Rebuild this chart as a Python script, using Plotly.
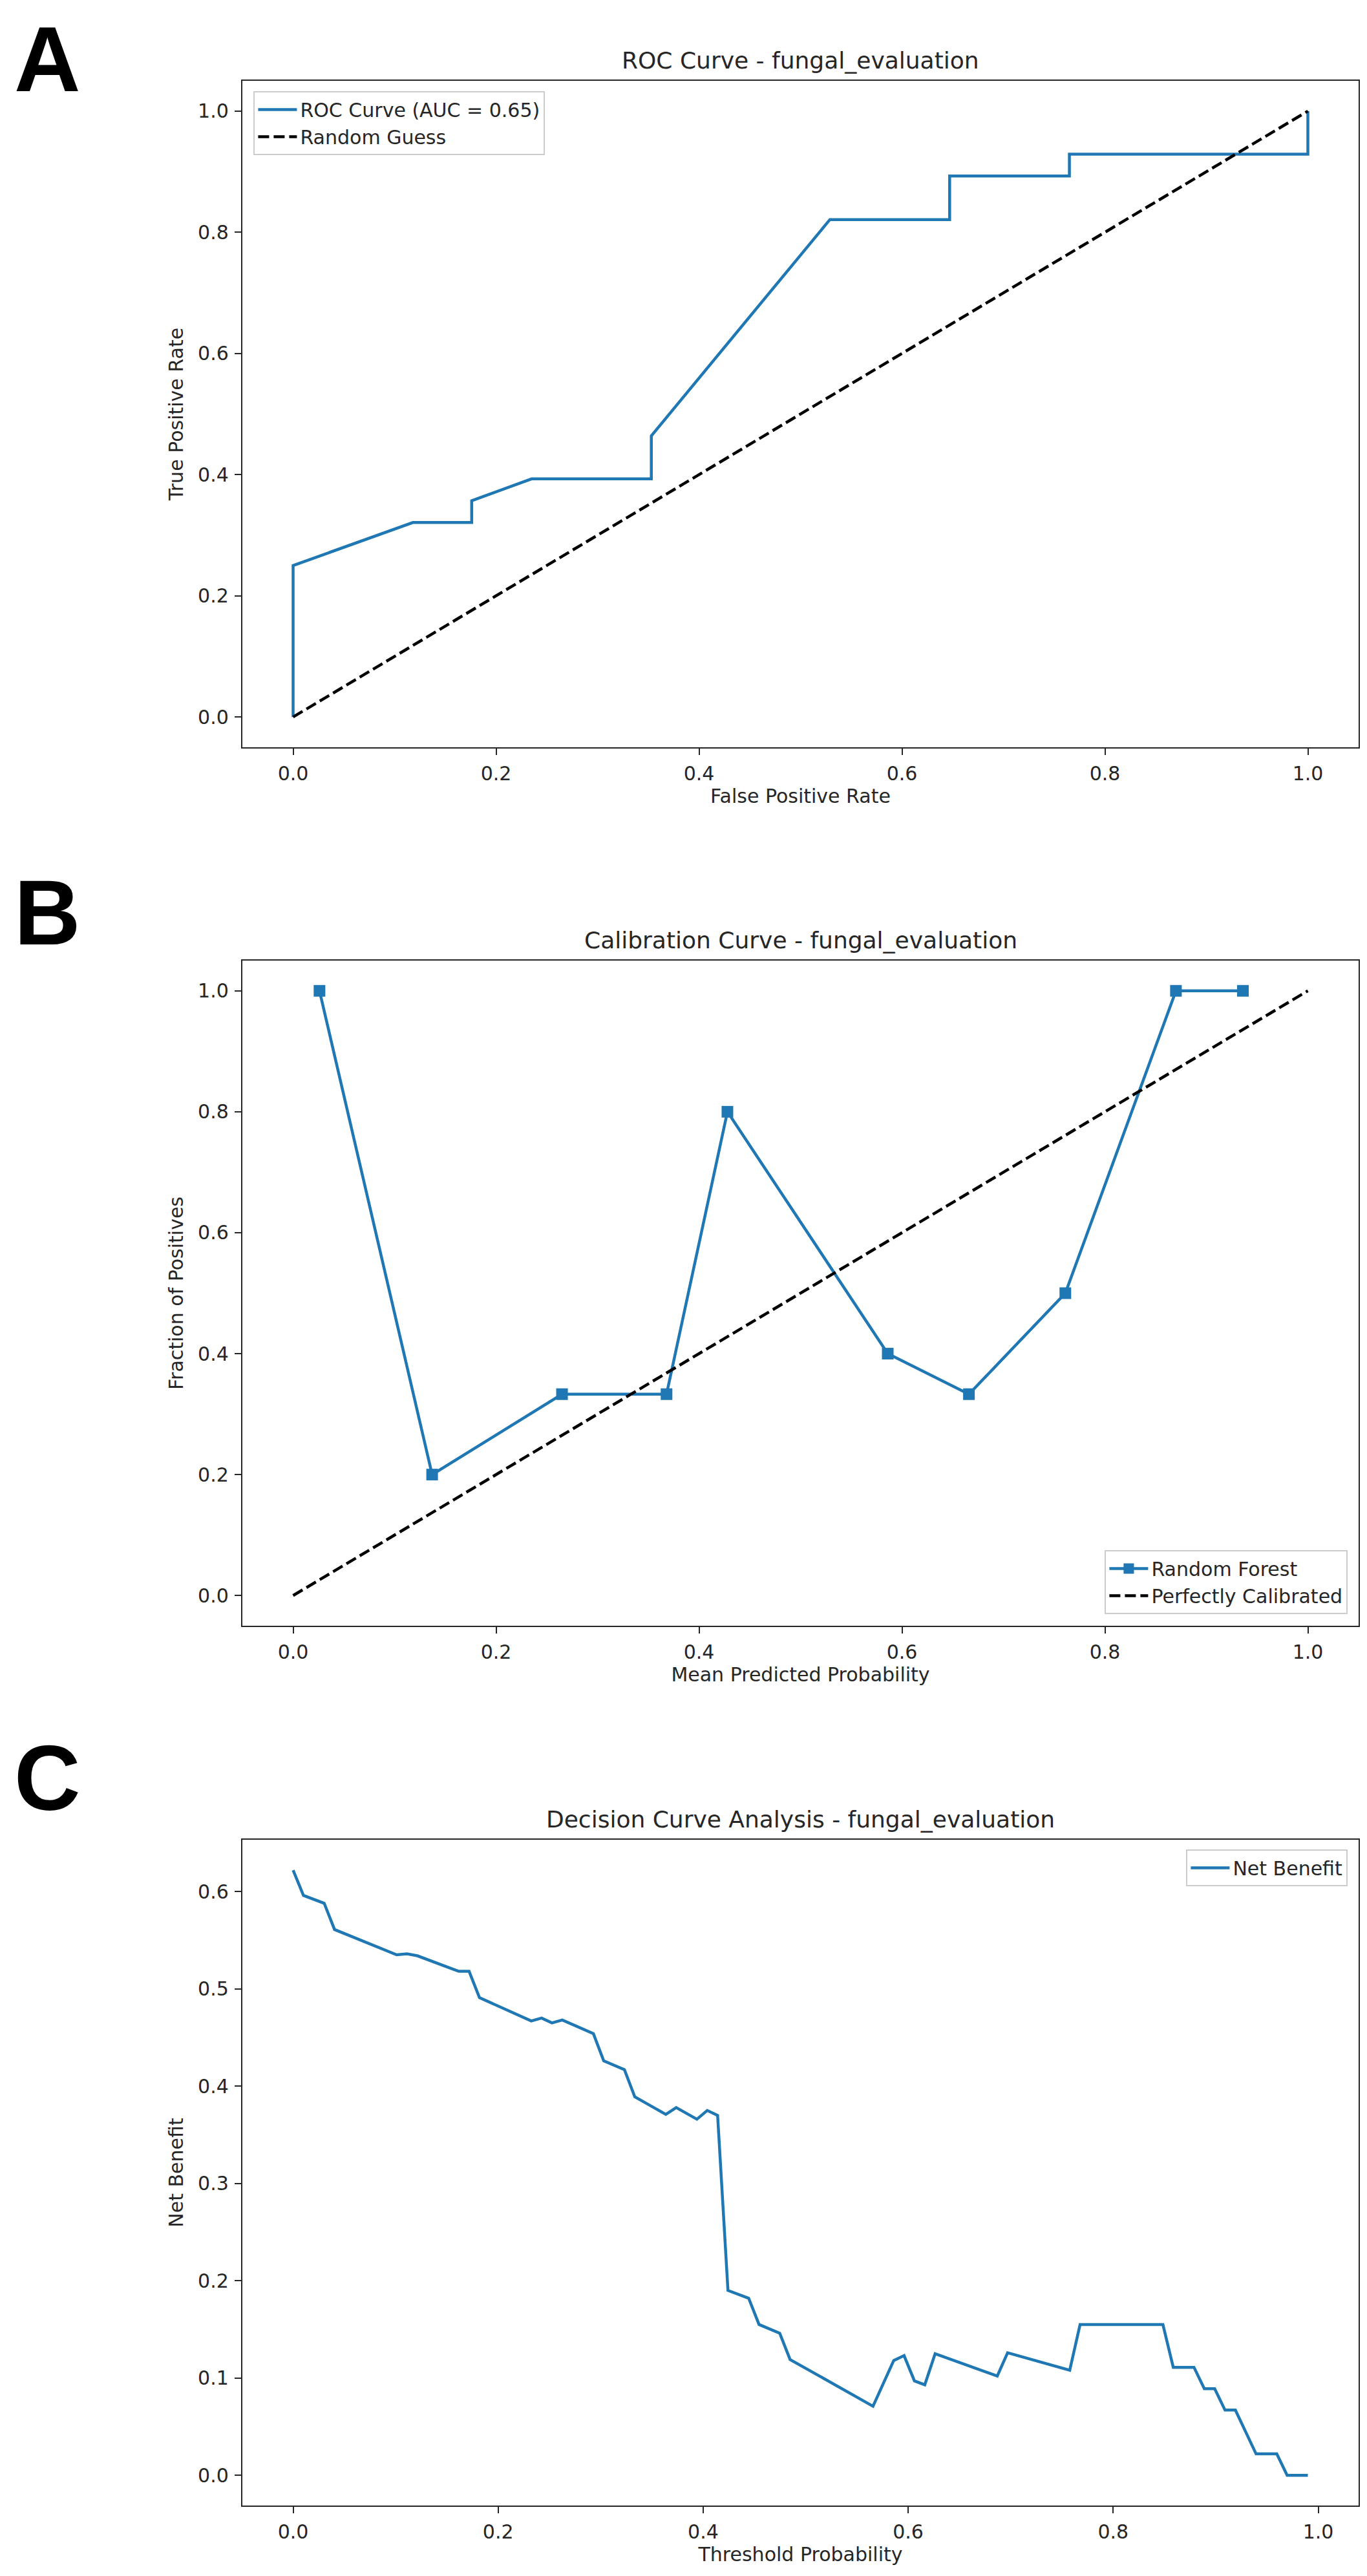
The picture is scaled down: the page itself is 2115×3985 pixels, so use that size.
import plotly.graph_objects as go

# Panel A - ROC curve
roc_fpr = [0.0, 0.0, 0.118, 0.176, 0.176, 0.235, 0.353, 0.353, 0.529, 0.647, 0.647, 0.765, 0.765, 1.0, 1.0]
roc_tpr = [0.0, 0.25, 0.321, 0.321, 0.357, 0.393, 0.393, 0.464, 0.821, 0.821, 0.893, 0.893, 0.929, 0.929, 1.0]
roc_auc = 0.65

# Panel B - calibration bins
cal_pred = [0.026, 0.137, 0.265, 0.368, 0.428, 0.586, 0.666, 0.761, 0.870, 0.936]
cal_frac = [1.0, 0.2, 0.333, 0.333, 0.8, 0.4, 0.333, 0.5, 1.0, 1.0]

# reference diagonal
diag = [0.0, 1.0]

# Panel C - decision curve, thresholds where the curve changes direction
dca_thr = [0.0, 0.0101, 0.0303, 0.0404, 0.1010, 0.1111, 0.1212, 0.1616, 0.1717, 0.1818,
           0.2323, 0.2424, 0.2525, 0.2626, 0.2929, 0.3030, 0.3232, 0.3333, 0.3636, 0.3737,
           0.3939, 0.4040, 0.4141, 0.4242, 0.4444, 0.4545, 0.4747, 0.4848, 0.5657, 0.5859,
           0.5960, 0.6061, 0.6162, 0.6263, 0.6869, 0.6970, 0.7576, 0.7677, 0.8485, 0.8586,
           0.8788, 0.8889, 0.8990, 0.9091, 0.9192, 0.9394, 0.9596, 0.9697, 0.9899]
dca_nb = [0.622, 0.596, 0.588, 0.561, 0.535, 0.536, 0.534, 0.518, 0.518, 0.491,
          0.467, 0.470, 0.465, 0.468, 0.454, 0.426, 0.417, 0.389, 0.371, 0.378,
          0.366, 0.375, 0.370, 0.190, 0.182, 0.155, 0.146, 0.119, 0.071, 0.118,
          0.123, 0.097, 0.093, 0.125, 0.102, 0.126, 0.108, 0.155, 0.155, 0.111,
          0.111, 0.089, 0.089, 0.067, 0.067, 0.022, 0.022, 0.0, 0.0]

W, H = 2115, 3985
BLUE = '#1f77b4'
INK = '#262626'
FONT = 'DejaVu Sans'
DASH = '17px,7px'


def py(px):
    # pixel row -> paper coordinate
    return 1 - px / H


def px_x(px):
    return px / W


x_dom = [px_x(367), px_x(2094)]
boxes = [(117, 1148), (1478, 2507), (2838, 3868)]

fig = go.Figure()

# A
fig.add_trace(go.Scatter(x=roc_fpr, y=roc_tpr, mode='lines', name=f'ROC Curve (AUC = {roc_auc:.2f})',
                         line=dict(color=BLUE, width=4.5), xaxis='x', yaxis='y', legend='legend'))
fig.add_trace(go.Scatter(x=diag, y=diag, mode='lines', name='Random Guess',
                         line=dict(color='black', width=4.5, dash=DASH), xaxis='x', yaxis='y', legend='legend'))
# B
fig.add_trace(go.Scatter(x=cal_pred, y=cal_frac, mode='lines+markers', name='Random Forest',
                         line=dict(color=BLUE, width=4.5), marker=dict(symbol='square', size=18, color=BLUE),
                         xaxis='x2', yaxis='y2', legend='legend2'))
fig.add_trace(go.Scatter(x=diag, y=diag, mode='lines', name='Perfectly Calibrated',
                         line=dict(color='black', width=4.5, dash=DASH), xaxis='x2', yaxis='y2', legend='legend2'))
# C
fig.add_trace(go.Scatter(x=dca_thr, y=dca_nb, mode='lines', name='Net Benefit',
                         line=dict(color=BLUE, width=4.5), xaxis='x3', yaxis='y3', legend='legend3'))

axis_common = dict(showline=True, mirror=True, linecolor=INK, linewidth=2.4,
                   ticks='outside', ticklen=10, tickwidth=2.4, tickcolor=INK,
                   showgrid=False, zeroline=False, tickformat='.1f',
                   tickfont=dict(family=FONT, size=30, color=INK), ticklabelstandoff=3)

specs = [
    ('False Positive Rate', 'True Positive Rate', [-0.05, 1.05], [-0.05, 1.05], 0.2),
    ('Mean Predicted Probability', 'Fraction of Positives', [-0.05, 1.05], [-0.05, 1.05], 0.2),
    ('Threshold Probability', 'Net Benefit', [-0.0495, 1.0394], [-0.0311, 0.6533], 0.1),
]

layout = dict(width=W, height=H, autosize=False, margin=dict(l=0, r=0, t=0, b=0),
              paper_bgcolor='white', plot_bgcolor='white', showlegend=True)

for i, (xt, yt, xr, yr, ystep) in enumerate(specs):
    top, bot = boxes[i]
    sfx = '' if i == 0 else str(i + 1)
    layout['xaxis' + sfx] = dict(axis_common, domain=x_dom, range=xr, dtick=0.2, tick0=0,
                                 anchor='y' + sfx,
                                 title=dict(text=xt, standoff=7, font=dict(family=FONT, size=30, color=INK)))
    layout['yaxis' + sfx] = dict(axis_common, domain=[py(bot), py(top)], range=yr, dtick=ystep, tick0=0,
                                 anchor='x' + sfx,
                                 title=dict(text=yt, standoff=14, font=dict(family=FONT, size=30, color=INK)))

leg_common = dict(bgcolor='rgba(255,255,255,0.8)', bordercolor='#cccccc', borderwidth=2.4,
                  font=dict(family=FONT, size=30, color=INK), xref='paper', yref='paper', itemwidth=60)
layout['legend'] = dict(leg_common, x=px_x(384), y=py(133), xanchor='left', yanchor='top')
layout['legend2'] = dict(leg_common, x=px_x(2077), y=py(2489), xanchor='right', yanchor='bottom')
layout['legend3'] = dict(leg_common, x=px_x(2077), y=py(2853), xanchor='right', yanchor='top')

fig.update_layout(**layout)

# plot titles and panel letters
titles = ['ROC Curve - fungal_evaluation', 'Calibration Curve - fungal_evaluation',
          'Decision Curve Analysis - fungal_evaluation']
letters = [('A', 84), ('B', 1403), ('C', 2742)]
x_mid = (x_dom[0] + x_dom[1]) / 2
for (top, bot), t in zip(boxes, titles):
    fig.add_annotation(text=t, x=x_mid, y=py(top - 32), xref='paper', yref='paper',
                       xanchor='center', yanchor='middle', showarrow=False,
                       font=dict(family=FONT, size=36, color=INK))
for letter, cy in letters:
    fig.add_annotation(text=f'<b>{letter}</b>', x=px_x(12), y=py(cy), xref='paper', yref='paper',
                       xanchor='left', yanchor='middle', showarrow=False,
                       font=dict(family='Liberation Sans', size=142, color='black'))

fig.write_html("out.html")
